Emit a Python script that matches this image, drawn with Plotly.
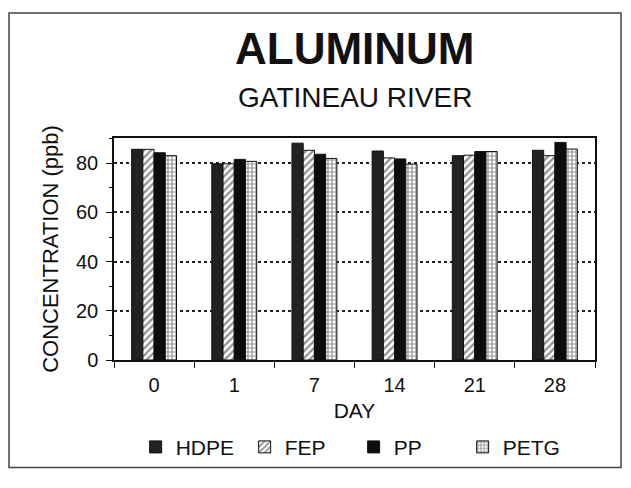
import plotly.graph_objects as go

days = ["0", "1", "7", "14", "21", "28"]
hdpe = [85.7, 79.8, 88.2, 85.0, 83.1, 85.3]
fep = [85.7, 79.8, 85.3, 82.2, 83.3, 83.1]
pp = [84.3, 81.6, 83.7, 81.8, 84.8, 88.5]
petg = [83.1, 80.8, 82.0, 79.7, 84.8, 85.8]

FONT = "Liberation Sans, Arial, sans-serif"

# page is offset 8px by the body margin, so figure is 16px smaller than the window
W, H = 615, 472
L, R, T, B = 106, 28, 130, 113
PW, PH = W - L - R, H - T - B

series = [
    ("HDPE", hdpe, dict(color="#222222", line=dict(color="#111", width=1))),
    ("FEP", fep, dict(color="white", line=dict(color="#111", width=1),
                      pattern=dict(shape="/", fgcolor="#222", bgcolor="white", size=5, solidity=0.45))),
    ("PP", pp, dict(color="#0d0d0d", line=dict(color="#111", width=1))),
    ("PETG", petg, dict(color="white", line=dict(color="#111", width=1),
                        pattern=dict(shape="+", fgcolor="#222", bgcolor="white", size=4, solidity=0.5))),
]

fig = go.Figure()
for name, vals, marker in series:
    fig.add_trace(go.Bar(x=days, y=vals, name=name, marker=marker))

fig.update_layout(
    width=W, height=H,
    barmode="group", bargap=0.44, bargroupgap=0,
    paper_bgcolor="white", plot_bgcolor="white",
    font=dict(family=FONT, color="#111"),
    margin=dict(l=L, r=R, t=T, b=B),
    showlegend=True,
    legend=dict(orientation="h", x=0.045, xanchor="left", y=-(449 - 359) / PH, yanchor="middle",
                font=dict(size=21), entrywidth=64, itemwidth=30, bgcolor="rgba(0,0,0,0)"),
    annotations=[
        dict(text="<b>ALUMINUM</b>", x=0.5, y=(359 - 38) / PH, xref="paper", yref="paper",
             yanchor="middle", showarrow=False, font=dict(size=44, family=FONT)),
        dict(text="GATINEAU RIVER", x=0.5, y=(359 - 88) / PH, xref="paper", yref="paper",
             yanchor="middle", showarrow=False, font=dict(size=28, family=FONT)),
    ],
    shapes=[
        dict(type="rect", xref="paper", yref="paper",
             x0=(1 - L) / PW, x1=(613 - L) / PW, y0=(359 - 470) / PH, y1=(359 - 1) / PH,
             line=dict(color="#444", width=1.5)),
    ],
)

fig.update_xaxes(
    title=dict(text="DAY", font=dict(size=21), standoff=9),
    tickfont=dict(size=20), ticklabelstandoff=6,
    showline=True, linecolor="#111", linewidth=1.5,
    mirror=True, ticks="outside", tickson="boundaries", ticklen=6, tickcolor="#111",
    showgrid=False,
)
fig.update_yaxes(
    title=dict(text="CONCENTRATION (ppb)", font=dict(size=22), standoff=11),
    range=[0, 90.3], tickvals=[0, 20, 40, 60, 80], tickfont=dict(size=20),
    ticklabelstandoff=4,
    showline=True, linecolor="#111", linewidth=1.5, mirror=True,
    ticks="outside", ticklen=6, tickcolor="#111",
    minor=dict(dtick=10, ticks="outside", ticklen=3, tickcolor="#111"),
    showgrid=True, gridcolor="#222", griddash="dot", gridwidth=1.5,
    zeroline=False,
)

fig.write_html("out.html")
